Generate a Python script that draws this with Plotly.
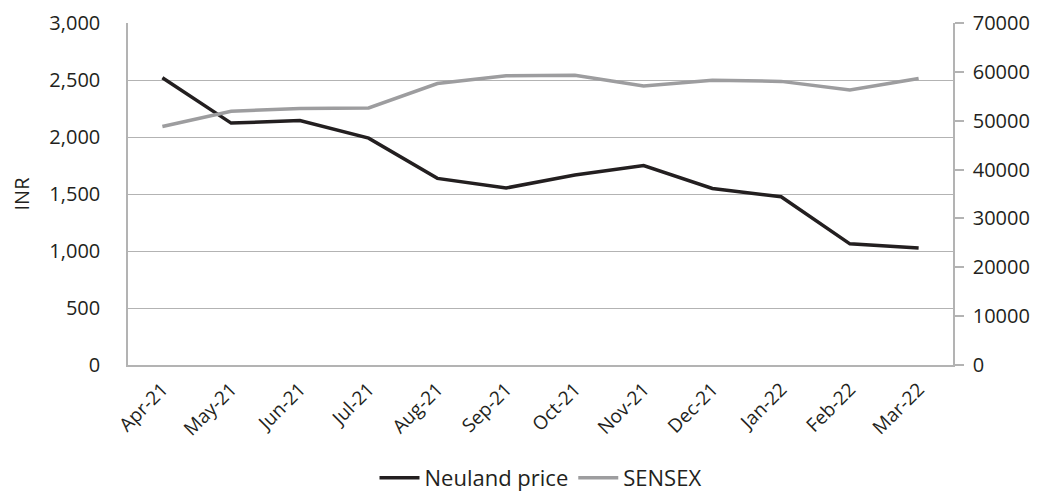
import plotly.graph_objects as go

months = ["Apr-21", "May-21", "Jun-21", "Jul-21", "Aug-21", "Sep-21",
          "Oct-21", "Nov-21", "Dec-21", "Jan-22", "Feb-22", "Mar-22"]
neuland_price = [2520, 2122, 2145, 1990, 1637, 1553, 1667, 1750, 1548, 1476, 1063, 1026]
sensex = [48800, 51950, 52500, 52600, 57600, 59200, 59300, 57100, 58300, 58050, 56300, 58650]

left_ticks = [0, 500, 1000, 1500, 2000, 2500, 3000]
right_ticks = [0, 10000, 20000, 30000, 40000, 50000, 60000, 70000]

FONT = "Open Sans"
TXT = "#231f20"
GRID = "#b3b3b3"

fig = go.Figure()
fig.add_trace(go.Scatter(x=months, y=neuland_price, name="Neuland price", mode="lines",
                         line=dict(color="#231f20", width=3.5), yaxis="y"))
fig.add_trace(go.Scatter(x=months, y=sensex, name="SENSEX", mode="lines",
                         line=dict(color="#9d9d9f", width=3.5), yaxis="y2"))

fig.update_layout(
    width=1042, height=497,
    margin=dict(l=128, r=89, t=23, b=132, autoexpand=False),
    paper_bgcolor="white", plot_bgcolor="white",
    font=dict(family=FONT, size=20, color=TXT),
    xaxis=dict(type="category", range=[-0.5, 11.5], tickangle=-45, automargin=False,
               showgrid=False, showline=True, linecolor=GRID, linewidth=1.5,
               ticks="outside", ticklen=4, tickcolor="rgba(0,0,0,0)",
               tickfont=dict(size=19, color=TXT), zeroline=False),
    yaxis=dict(range=[0, 3000], tickvals=left_ticks, tickformat=",", automargin=False,
               showgrid=True, gridcolor=GRID, gridwidth=1.2,
               showline=True, linecolor=GRID, linewidth=1.5,
               ticks="outside", ticklen=22, tickcolor="rgba(0,0,0,0)",
               tickfont=dict(size=20, color=TXT),
               zeroline=False,
               title=dict(text="INR", font=dict(size=20, color=TXT), standoff=14)),
    yaxis2=dict(range=[0, 70000], tickvals=right_ticks, tickformat="d", automargin=False,
                overlaying="y", side="right", showgrid=False,
                showline=True, linecolor=GRID, linewidth=1.5,
                ticks="outside", ticklen=9, tickcolor=GRID, tickwidth=1.5,
                ticklabelstandoff=5,
                tickfont=dict(size=20, color=TXT),
                zeroline=False),
    showlegend=True,
    legend=dict(orientation="h", x=0.5, xanchor="center", y=-0.33, yanchor="middle",
                font=dict(size=22, color=TXT), itemwidth=40, tracegroupgap=0,
                bgcolor="rgba(0,0,0,0)"),
)

fig.write_html("out.html", config={"displayModeBar": False},
               post_script="document.body.style.margin='0px';")
